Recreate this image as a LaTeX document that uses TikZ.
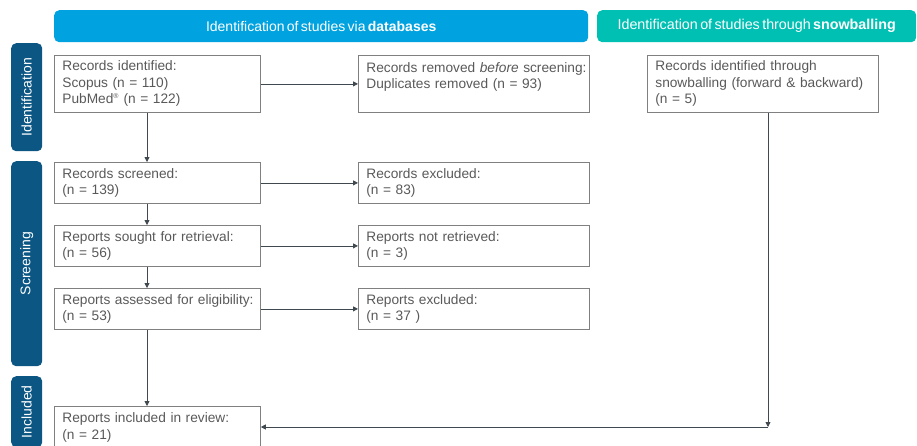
\documentclass[tikz,border=0pt]{standalone}
\usepackage{fontspec}
\setmainfont{Liberation Sans}[WordSpace=0.6]
\usetikzlibrary{arrows.meta}
\definecolor{dbblue}{RGB}{0,163,224}
\definecolor{snowteal}{RGB}{0,191,179}
\definecolor{phase}{RGB}{12,86,132}
\definecolor{txtgray}{RGB}{89,89,89}
\definecolor{boxline}{RGB}{128,128,128}
\definecolor{arrline}{RGB}{64,72,80}
\begin{document}
\begin{tikzpicture}[x=1pt,y=-1pt,
  every node/.style={font=\fontsize{14}{16.5}\selectfont},
  banner/.style={anchor=north west,fill=#1,rounded corners=5pt,inner sep=0pt,
    text=white,minimum height=32pt},
  phasebar/.style={anchor=north west,fill=phase,rounded corners=5pt,inner sep=0pt,
    minimum width=31pt},
  phasetext/.style={rotate=90,text=white},
  % text boxes: lines are allowed to run a little past the text width instead of wrapping
  box/.style={anchor=north west,draw=boxline,line width=0.8pt,inner xsep=8pt,inner ysep=0pt,
    align=left,text=txtgray,text width=#1,font=\fontsize{13.7}{16.5}\selectfont,
    execute at begin node={\rightskip=-30pt plus 1fil\relax}},
  arr/.style={draw=arrline,line width=0.8pt,-{Triangle[length=5pt,width=5pt]}}]
\clip (0,0) rectangle (917,445);

% column banners
\node[banner=dbblue,minimum width=534pt] (bdb) at (54,10) {};
\node[text=white] at (bdb.center) {Identification of studies via \textbf{databases}};
\node[banner=snowteal,minimum width=319pt] (bsn) at (597,10) {};
\node[text=white,font=\fontsize{14.3}{16.5}\selectfont] at (bsn.center)
  {Identification of studies through \textbf{snowballing}};

% phase bars
\node[phasebar,minimum height=108pt] (pid) at (11,43) {};
\node[phasetext] at (pid.center) {Identification};
\node[phasebar,minimum height=205pt] (psc) at (11,161) {};
\node[phasetext] at (psc.center) {Screening};
\node[phasebar,minimum height=71pt] (pin) at (11,376) {};
\node[phasetext] at (pin.center) {Included};

% boxes
\node[box=190pt,minimum height=57pt] (rid) at (54,55)
  {Records identified:\\Scopus (n = 110)\\PubMed\textsuperscript{\scriptsize ®} (n = 122)};
\node[box=215pt,minimum height=57pt] (rem) at (358,55)
  {Records removed \textit{before} screening:\\Duplicates removed (n = 93)\\\mbox{}};
\node[box=215pt,minimum height=57pt] (snow) at (647,55)
  {Records identified through\\snowballing (forward \& backward)\\(n = 5)};
\node[box=190pt,minimum height=41pt] (scr) at (54,162)
  {Records screened:\\(n = 139)};
\node[box=215pt,minimum height=41pt] (exc) at (358,162)
  {Records excluded:\\(n = 83)};
\node[box=190pt,minimum height=41pt] (sought) at (54,225)
  {Reports sought for retrieval:\\(n = 56)};
\node[box=215pt,minimum height=41pt] (notret) at (358,225)
  {Reports not retrieved:\\(n = 3)};
\node[box=190pt,minimum height=41pt] (elig) at (54,288)
  {Reports assessed for eligibility:\\(n = 53)};
\node[box=215pt,minimum height=41pt] (repexc) at (358,288)
  {Reports excluded:\\(n = 37 )};
\node[box=190pt,minimum height=42pt] (incl) at (54,406)
  {Reports included in review:\\(n = 21)};

% connectors
\coordinate (spine) at (147,0);
\draw[arr] (rid.south -| spine) -- (scr.north -| spine);
\draw[arr] (scr.south -| spine) -- (sought.north -| spine);
\draw[arr] (sought.south -| spine) -- (elig.north -| spine);
\draw[arr] (elig.south -| spine) -- (incl.north -| spine);
\draw[arr] (rid.east) -- (rem.west);
\draw[arr] (scr.east) -- (exc.west);
\draw[arr] (sought.east) -- (notret.west);
\draw[arr] (elig.east) -- (repexc.west);
\coordinate (corner) at (768,427);
\draw[arr] (snow.south -| corner) -- (corner);
\draw[arr] (corner) -- (incl.east |- corner);
\end{tikzpicture}
\end{document}
